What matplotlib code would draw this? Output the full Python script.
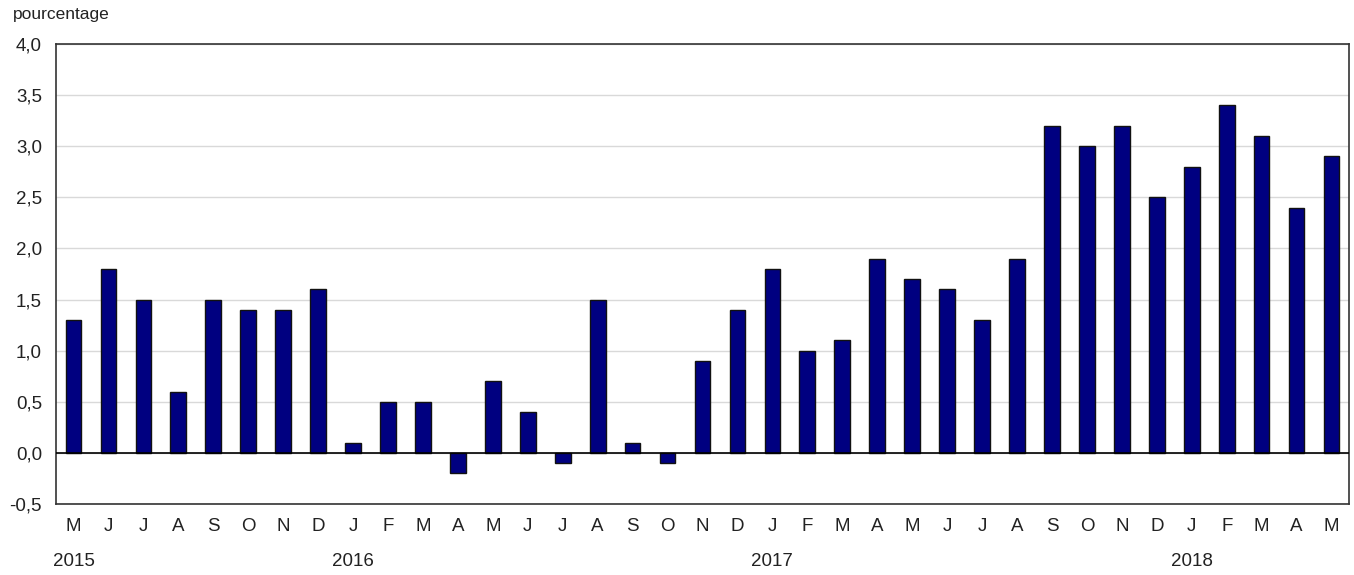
import matplotlib
matplotlib.use("Agg")
import matplotlib.pyplot as plt
import matplotlib.transforms as mtransforms
from matplotlib import font_manager

months = ["M", "J", "J", "A", "S", "O", "N", "D",
          "J", "F", "M", "A", "M", "J", "J", "A", "S", "O", "N", "D",
          "J", "F", "M", "A", "M", "J", "J", "A", "S", "O", "N", "D",
          "J", "F", "M", "A", "M"]
values = [1.3, 1.8, 1.5, 0.6, 1.5, 1.4, 1.4, 1.6,
          0.1, 0.5, 0.5, -0.2, 0.7, 0.4, -0.1, 1.5, 0.1, -0.1, 0.9, 1.4,
          1.8, 1.0, 1.1, 1.9, 1.7, 1.6, 1.3, 1.9, 3.2, 3.0, 3.2, 2.5,
          2.8, 3.4, 3.1, 2.4, 2.9]
years = ["2015", "2016", "2017", "2018"]
year_start_idx = [0, 8, 20, 32]
yticks = [-0.5, 0.0, 0.5, 1.0, 1.5, 2.0, 2.5, 3.0, 3.5, 4.0]

avail = {f.name for f in font_manager.fontManager.ttflist}
fam = [f for f in ["Liberation Sans Narrow", "Liberation Sans", "DejaVu Sans"] if f in avail]
plt.rcParams['font.family'] = fam

fig = plt.figure(figsize=(13.54, 5.75), dpi=100)
ax = fig.add_axes([56/1354, 71/575, 1293/1354, 460/575])

x = list(range(len(values)))
ax.bar(x, values, width=0.45, color="#000080", edgecolor="#111111", linewidth=1.0, zorder=3)

ax.set_xlim(-0.5, len(values) - 0.5)
ax.set_ylim(-0.5, 4.0)
ax.set_yticks(yticks)
ax.set_yticklabels([f"{v:.1f}".replace(".", ",") for v in yticks], fontsize=13.5, color="#222222")
ax.grid(axis="y", color="#d9d9d9", linewidth=1.0, zorder=0)
ax.axhline(0, color="black", linewidth=1.2, zorder=4)
ax.tick_params(axis="y", length=0, pad=10)
ax.set_xticks(x)
ax.set_xticklabels(months, fontsize=13.5, color="#222222")
ax.tick_params(axis="x", length=0, pad=10)
for s in ax.spines.values():
    s.set_color("#333333")
    s.set_linewidth(1.2)

trans = mtransforms.blended_transform_factory(ax.transData, fig.transFigure)
for yr, i in zip(years, year_start_idx):
    ax.text(i, 1 - 562/575, yr, transform=trans, ha="center", va="center",
            fontsize=13.5, color="#222222")

fig.text(13/1354, 1 - 15/575, "pourcentage", ha="left", va="center", fontsize=12.5, color="#222222")

fig.savefig("out.png", dpi=100)
